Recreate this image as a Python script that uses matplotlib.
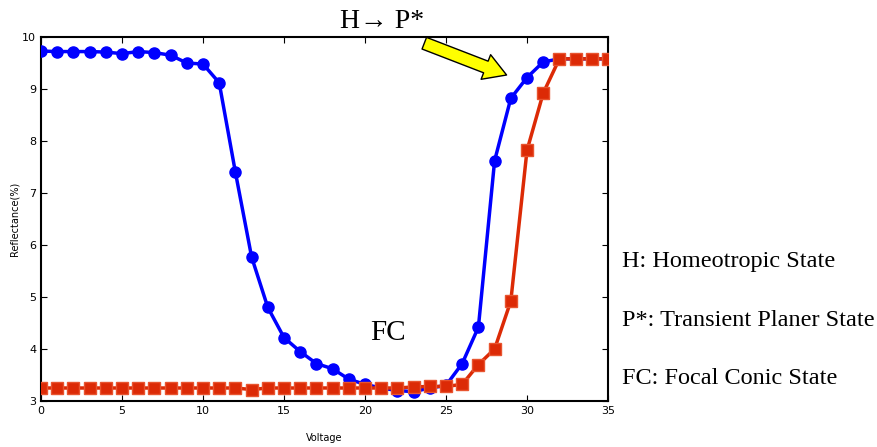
import matplotlib
matplotlib.use('Agg')
import matplotlib.pyplot as plt
import numpy as np

# voltage steps
volt_blue = list(range(0, 36))
volt_red = list(range(0, 36))

# blue: decreasing then increasing (H -> FC -> P*)
refl_blue = [9.73, 9.72, 9.72, 9.72, 9.71, 9.68, 9.72, 9.70, 9.65, 9.50,
             9.48, 9.12, 7.40, 5.77, 4.80, 4.22, 3.95, 3.72, 3.62, 3.42,
             3.32, 3.25, 3.20, 3.18, 3.25, 3.30, 3.72, 4.42, 7.62, 8.82,
             9.22, 9.52, 9.58, 9.58, 9.58, 9.58]

# red: FC stays low then rises
refl_red = [3.25, 3.25, 3.25, 3.25, 3.25, 3.25, 3.25, 3.25, 3.25, 3.25,
            3.25, 3.25, 3.25, 3.22, 3.25, 3.25, 3.25, 3.25, 3.25, 3.25,
            3.25, 3.25, 3.25, 3.27, 3.28, 3.28, 3.32, 3.70, 4.00, 4.92,
            7.82, 8.92, 9.58, 9.58, 9.58, 9.58]

legend_lines = ['H: Homeotropic State',
                'P*: Transient Planer State',
                'FC: Focal Conic State']

fig = plt.figure(figsize=(8.78, 4.47), dpi=100)
ax = fig.add_axes([41/878, 1 - 401/447, (608 - 41)/878, (401 - 37)/447])

ax.plot(volt_blue, refl_blue, color='#0000FF', lw=2.5, marker='o',
        markersize=8, markeredgecolor='#0000FF', zorder=3)
ax.plot(volt_red, refl_red, color='#DC2A06', lw=2.5, marker='s',
        markersize=9, markeredgecolor='#E8542F', zorder=4)

ax.set_xlim(0, 35)
ax.set_ylim(3, 10)
ax.set_xticks(range(0, 36, 5))
ax.set_yticks(range(3, 11))
ax.tick_params(direction='in', top=True, right=True, labelsize=8,
               length=4, width=0.8)
for sp in ax.spines.values():
    sp.set_linewidth(1.5)
ax.set_xlabel('Voltage', fontsize=7, labelpad=12)
ax.set_ylabel('Reflectance(%)', fontsize=7, labelpad=2)

serif = ['Liberation Serif', 'DejaVu Serif']
ax.text(21.4, 4.3, 'FC', fontsize=21, family=serif, ha='center', va='center')
fig.text(382/878, 1 - 22/447, 'H\u2192 P*', fontsize=20, family=serif,
         ha='center', va='center')

# yellow arrow pointing to the transition
ax.annotate('', xy=(28.9, 9.25), xytext=(23.5, 9.9),
            arrowprops=dict(arrowstyle='simple,head_width=1.9,head_length=1.6,tail_width=0.9',
                            fc='#FFFF00', ec='black', lw=1),
            annotation_clip=False, zorder=5)

for i, t in enumerate(legend_lines):
    fig.text(622/878, 1 - (262 + 58*i)/447, t, fontsize=17.5, family=serif,
             ha='left', va='center')

fig.savefig('out.png', dpi=100)
